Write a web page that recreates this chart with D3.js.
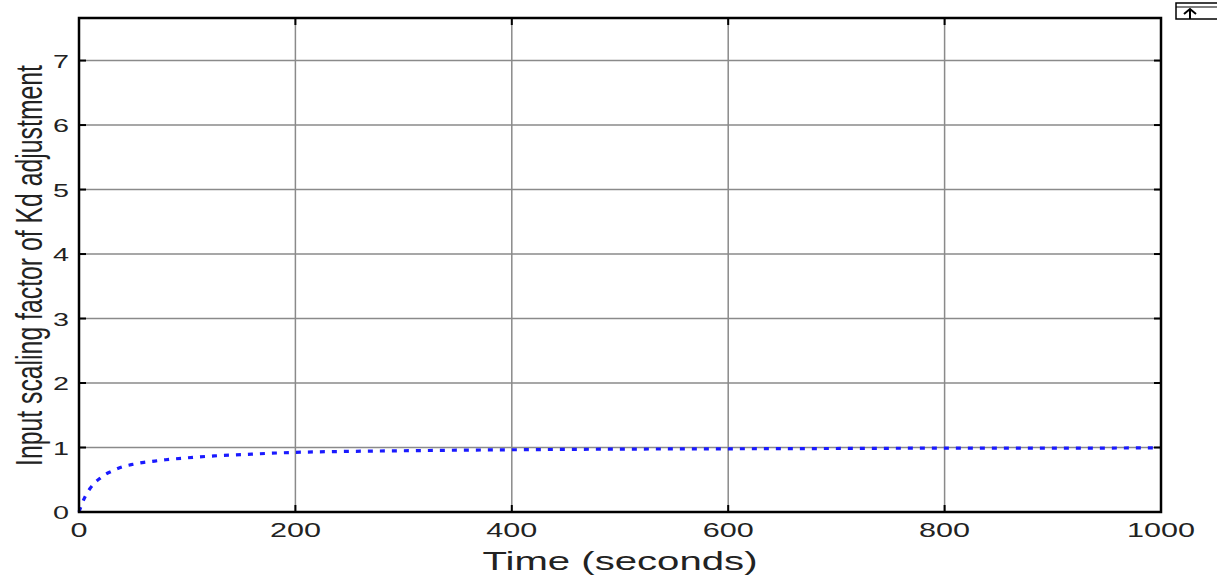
<!DOCTYPE html>
<html>
<head>
<meta charset="utf-8">
<script src="https://d3js.org/d3.v7.min.js"></script>
<style>
  body { margin: 0; background: #fff; }
  svg { display: block; }
  text { font-family: "Liberation Sans", Arial, sans-serif; fill: #222; }
</style>
</head>
<body>
<div id="chart"></div>
<script>
// time (s) and scaling factor
const timeVals = [0, 3, 6, 10, 15, 20, 25, 30, 40, 50, 60, 70, 80, 100, 125, 150, 200, 250, 300, 400, 500, 600, 700, 800, 900, 1000];
const factorVals = [0, 0.14, 0.25, 0.36, 0.46, 0.53, 0.59, 0.63, 0.7, 0.74, 0.77, 0.79, 0.81, 0.84, 0.87, 0.89, 0.925, 0.94, 0.95, 0.965, 0.975, 0.98, 0.985, 0.99, 0.99, 0.995];
const xTicks = [0, 200, 400, 600, 800, 1000];
const yTicks = [0, 1, 2, 3, 4, 5, 6, 7];

const W = 1217, H = 575;
const pl = 79, pr = 1161, pt = 18, pb = 512;

const svg = d3.select("#chart").append("svg")
    .attr("width", W).attr("height", H);

const x = d3.scaleLinear().domain([0, 1000]).range([pl, pr]);
const y = d3.scaleLinear().domain([0, 7.66]).range([pb, pt]);

// grid
svg.append("g").selectAll("line")
    .data(xTicks.slice(1, -1)).enter().append("line")
    .attr("x1", d => x(d)).attr("x2", d => x(d))
    .attr("y1", pt).attr("y2", pb)
    .attr("stroke", "#8a8a8a").attr("stroke-width", 1.5);
svg.append("g").selectAll("line")
    .data(yTicks.slice(1)).enter().append("line")
    .attr("x1", pl).attr("x2", pr)
    .attr("y1", d => y(d)).attr("y2", d => y(d))
    .attr("stroke", "#8a8a8a").attr("stroke-width", 1.5);

// curve
const line = d3.line().x((d, i) => x(timeVals[i])).y(d => y(d)).curve(d3.curveMonotoneX);
svg.append("path")
    .datum(factorVals)
    .attr("d", line)
    .attr("fill", "none")
    .attr("stroke", "#1a1aff")
    .attr("stroke-width", 3.2)
    .attr("stroke-dasharray", "5,7");

// tick marks (inside, on all four sides)
const tk = 7;
xTicks.forEach(d => {
  svg.append("line").attr("x1", x(d)).attr("x2", x(d)).attr("y1", pb).attr("y2", pb - tk)
    .attr("stroke", "#000").attr("stroke-width", 2);
  svg.append("line").attr("x1", x(d)).attr("x2", x(d)).attr("y1", pt).attr("y2", pt + tk)
    .attr("stroke", "#000").attr("stroke-width", 2);
});
yTicks.forEach(d => {
  svg.append("line").attr("x1", pl).attr("x2", pl + tk).attr("y1", y(d)).attr("y2", y(d))
    .attr("stroke", "#000").attr("stroke-width", 2);
  svg.append("line").attr("x1", pr).attr("x2", pr - tk).attr("y1", y(d)).attr("y2", y(d))
    .attr("stroke", "#000").attr("stroke-width", 2);
});

// frame
svg.append("rect")
    .attr("x", pl).attr("y", pt)
    .attr("width", pr - pl).attr("height", pb - pt)
    .attr("fill", "none").attr("stroke", "#000").attr("stroke-width", 2.5);

// tick labels (stretched wide like the original)
svg.append("g").selectAll("text")
    .data(xTicks).enter().append("text")
    .attr("x", d => x(d)).attr("y", 537)
    .attr("text-anchor", "middle")
    .attr("font-size", 21)
    .attr("textLength", d => String(d).length * 17)
    .attr("lengthAdjust", "spacingAndGlyphs")
    .text(d => d);

svg.append("g").selectAll("text")
    .data(yTicks).enter().append("text")
    .attr("x", 69).attr("y", d => y(d) + 7)
    .attr("text-anchor", "end")
    .attr("font-size", 19)
    .attr("textLength", 16)
    .attr("lengthAdjust", "spacingAndGlyphs")
    .text(d => d);

// axis titles
svg.append("text")
    .attr("x", 620).attr("y", 570)
    .attr("text-anchor", "middle")
    .attr("font-size", 25)
    .attr("textLength", 275)
    .attr("lengthAdjust", "spacingAndGlyphs")
    .text("Time (seconds)");

svg.append("text")
    .attr("transform", "translate(42,265.5) rotate(-90)")
    .attr("text-anchor", "middle")
    .attr("font-size", 36)
    .attr("textLength", 401)
    .attr("lengthAdjust", "spacingAndGlyphs")
    .text("Input scaling factor of Kd adjustment");

// little toolbar button in the corner
const btn = svg.append("g");
btn.append("rect").attr("x", 1176).attr("y", 3).attr("width", 45).attr("height", 16)
    .attr("fill", "#fff").attr("stroke", "#000").attr("stroke-width", 1.5);
btn.append("line").attr("x1", 1176).attr("x2", 1217).attr("y1", 7).attr("y2", 7)
    .attr("stroke", "#000").attr("stroke-width", 1.2);
btn.append("path").attr("d", "M1184,14 L1190,9 L1196,14 M1190,9 L1190,19")
    .attr("fill", "none").attr("stroke", "#000").attr("stroke-width", 2);
</script>
</body>
</html>
